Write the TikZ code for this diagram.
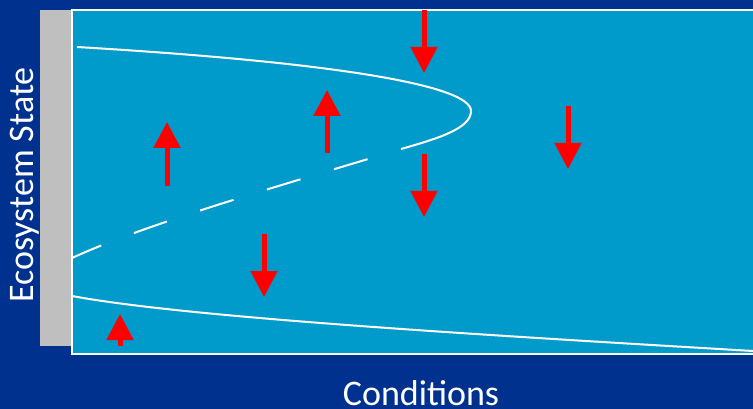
\documentclass[tikz,border=0pt]{standalone}
\usepackage{fontspec}
\setmainfont{Carlito}
\usetikzlibrary{arrows.meta}
\definecolor{navy}{HTML}{00318F}
\definecolor{plotblue}{HTML}{009BCB}
\definecolor{bargray}{HTML}{BFBFBF}
\tikzset{
  curve/.style={white, line width=2pt},
  frame/.style={white, line width=2pt},
  shift arrow/.style={red, line width=5pt,
    -{Triangle[width=26pt,length=26pt]}},
  axis label/.style={white, font=\fontsize{36}{43}\selectfont, inner sep=0pt,
    text depth=0pt, anchor=base}
}
\begin{document}
\begin{tikzpicture}[x=1pt, y=-1pt]
  % canvas and plot area
  \fill[navy] (0,0) rectangle (753,409);
  \useasboundingbox (0,0) rectangle (753,409);
  \fill[bargray] (40,10) rectangle (72,346);
  \fill[plotblue] (72,10) rectangle (753,354);
  \draw[frame] (753,10) -- (72,10) -- (72,354) -- (753,354);

  % fold curve: stable upper branch, unstable middle branch, stable lower branch
  \draw[curve] (77,47) .. controls (330,62) and (471,85) .. (471,111)
               .. controls (471,128) and (440,138) .. (401,149);
  \draw[curve, dash pattern=on 35pt off 35pt, dash phase=35pt]
        (401,149) .. controls (300,180) and (150,222) .. (72,258);
  \draw[curve] (72,296) .. controls (190,318) and (500,336) .. (753,351);

  % direction of change
  \coordinate (d1s) at (424,10);  \coordinate (d1e) at (424,73);
  \coordinate (d2s) at (424,154); \coordinate (d2e) at (424,217);
  \coordinate (d3s) at (568,106); \coordinate (d3e) at (568,169);
  \coordinate (d4s) at (264,234); \coordinate (d4e) at (264,297);
  \coordinate (u1s) at (327,153); \coordinate (u1e) at (327,90);
  \coordinate (u2s) at (167,186); \coordinate (u2e) at (167,122);
  \coordinate (u3s) at (120,346); \coordinate (u3e) at (120,314);
  \foreach \a in {d1,d2,d3,d4,u1,u2,u3}
    \draw[shift arrow] (\a s) -- (\a e);

  % axis labels
  \node[axis label, rotate=90] (ylab) at (33,185) {Ecosystem State};
  \node[axis label] (xlab) at (421,405) {Conditions};
\end{tikzpicture}
\end{document}
